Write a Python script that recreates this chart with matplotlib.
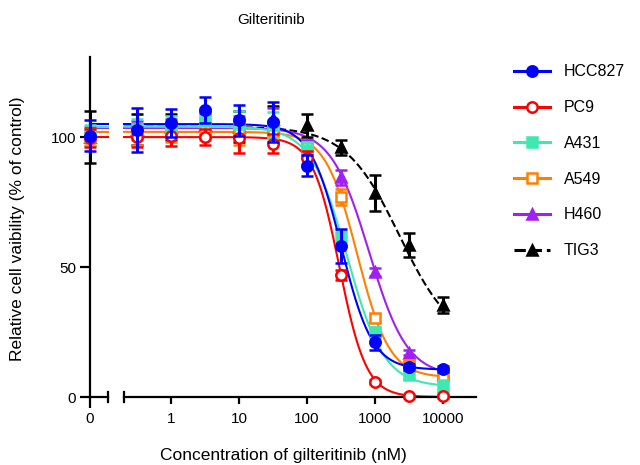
import numpy as np
import matplotlib
matplotlib.use("Agg")
import matplotlib.pyplot as plt
from matplotlib.lines import Line2D

plt.rcParams["font.family"] = ["Liberation Sans", "DejaVu Sans"]

# concentrations (nM); the 0 control sits on the left stub of the broken axis
conc = [0.316, 1, 3.16, 10, 31.6, 100, 316, 1000, 3162, 10000]

names = ["HCC827", "PC9", "A431", "A549", "H460", "TIG3"]

# first value in each list is the 0 nM control
hcc827 = [100.5, 102.7, 105.4, 110.4, 106.5, 105.8, 89.0, 58.0, 21.0, 11.5, 10.8]
pc9 = [99.5, 100.0, 100.5, 100.0, 99.6, 97.5, 92.0, 47.0, 5.8, 0.3, 0.2]
a431 = [100.5, 103.0, 104.0, 106.0, 105.0, 104.5, 95.0, 61.0, 25.0, 8.5, 4.0]
a549 = [100.0, 101.0, 102.0, 103.0, 102.0, 102.0, 96.0, 77.0, 30.5, 12.5, 8.0]
h460 = [101.0, 103.0, 104.0, 105.0, 104.0, 106.0, 97.0, 84.5, 48.0, 17.0, 9.0]
tig3 = [100.0, 103.0, 104.0, 104.5, 104.0, 107.0, 104.5, 96.0, 78.5, 58.5, 35.5]

hcc827_err = [6.0, 8.3, 5.5, 5.0, 6.0, 7.7, 4.0, 6.5, 3.0, 1.2, 1.2]
pc9_err = [3.5, 4.0, 4.0, 3.0, 5.6, 3.5, 2.5, 2.0, 0.8, 0.6, 0.5]
a431_err = [4.0, 4.0, 4.0, 5.0, 5.0, 5.0, 3.0, 3.0, 2.0, 1.5, 2.5]
a549_err = [3.0, 4.0, 4.0, 4.0, 5.0, 4.0, 2.0, 3.0, 1.5, 1.5, 1.5]
h460_err = [3.0, 3.0, 3.0, 4.0, 4.0, 5.0, 2.0, 3.0, 1.5, 1.0, 1.0]
tig3_err = [10.0, 6.0, 5.0, 5.0, 6.0, 5.0, 4.5, 3.0, 7.0, 4.5, 3.0]

# fitted 4PL parameters (top, bottom, IC50, hill)
fit_top = [105.0, 100.0, 104.0, 102.0, 103.5, 104.0]
fit_bottom = [10.5, 0.0, 4.0, 7.5, 8.0, 20.0]
fit_ic50 = [320, 300, 390, 550, 820, 2300]
fit_hill = [1.9, 2.2, 1.6, 1.84, 1.55, 1.1]

values = [hcc827, pc9, a431, a549, h460, tig3]
errors = [hcc827_err, pc9_err, a431_err, a549_err, h460_err, tig3_err]

colors = ["#0000FF", "#FF0000", "#3FE8B0", "#FF8000", "#A020F0", "#000000"]
markers = ["o", "o", "s", "s", "^", "^"]
filled = [True, False, True, False, True, True]
styles = ["-", "-", "-", "-", "-", "--"]


def logistic(x, top, bottom, ic50, hill):
    return bottom + (top - bottom) / (1 + (x / ic50) ** hill)


fig = plt.figure(figsize=(6.4, 4.65), dpi=100)
W, H = 640, 465
axL = fig.add_axes([90 / W, 1 - 397 / H, 18 / W, 340 / H])
axR = fig.add_axes([124 / W, 1 - 397 / H, 352 / W, 340 / H], sharey=axL)

axL.set_xlim(0, 1)
axL.set_ylim(0, 130.8)
axR.set_xscale("log")
axR.set_xlim(0.204, 30550)

xfit = np.logspace(np.log10(0.204), 4, 300)

# curves first, markers on top; draw in reverse so HCC827 ends up on top
order = list(range(len(names)))[::-1]
for k, i in enumerate(order):
    lw = 1.5
    axR.plot(xfit, logistic(xfit, fit_top[i], fit_bottom[i], fit_ic50[i], fit_hill[i]),
             color=colors[i], ls=styles[i], lw=lw, zorder=2, clip_on=False)
    axL.plot([0, 1], [fit_top[i], fit_top[i]], color=colors[i], ls=styles[i],
             lw=lw, zorder=2, clip_on=False)

for k, i in enumerate(order):
    mfc = colors[i] if filled[i] else "white"
    kw = dict(fmt=markers[i], color=colors[i], mfc=mfc, mec=colors[i],
              mew=1.8, ms=7.5, elinewidth=2.2, capsize=4, capthick=2.2,
              zorder=4 + k)
    c1 = axL.errorbar([0], [values[i][0]], yerr=[errors[i][0]], **kw)
    c2 = axR.errorbar(conc, values[i][1:], yerr=errors[i][1:], **kw)
    for cont in (c1, c2):
        for art in cont.get_children():
            art.set_clip_on(False)

# spines and ticks
for ax in (axL, axR):
    ax.spines["top"].set_visible(False)
    ax.spines["right"].set_visible(False)
    ax.spines["bottom"].set_linewidth(1.6)
    ax.minorticks_off()
axL.spines["left"].set_linewidth(1.6)
axR.spines["left"].set_visible(False)

axL.set_yticks([0, 50, 100])
axL.set_xticks([0])
axL.set_xticklabels(["0"])
axL.tick_params(axis="y", direction="out", length=7, width=1.6, labelsize=11, pad=3)
axL.tick_params(axis="x", direction="out", length=8, width=1.6, labelsize=11, pad=3)

axR.set_xticks([1, 10, 100, 1000, 10000])
axR.set_xticklabels(["1", "10", "100", "1000", "10000"])
axR.xaxis.set_minor_locator(matplotlib.ticker.NullLocator())
axR.tick_params(axis="x", direction="out", length=5, width=1.6, labelsize=11, pad=6)
axR.tick_params(axis="y", left=False, labelleft=False)

# break marks at the ends of the two axis segments
axL.plot([1, 1], [-0.016, 0.016], transform=axL.transAxes, color="black",
         lw=1.6, clip_on=False)
axR.plot([0, 0], [-0.016, 0.016], transform=axR.transAxes, color="black",
         lw=1.6, clip_on=False)

fig.text(271 / W, 1 - 20 / H, "Gilteritinib", ha="center", va="center", fontsize=11)
fig.text(283 / W, 1 - 455 / H, "Concentration of gilteritinib (nM)",
         ha="center", va="center", fontsize=12.5)
fig.text(18 / W, 1 - 229 / H, "Relative cell vaibility (% of control)",
         ha="center", va="center", rotation=90, fontsize=12.5)

handles = []
for i in range(len(names)):
    mfc = colors[i] if filled[i] else "white"
    handles.append(Line2D([], [], color=colors[i], ls=styles[i], lw=2.2,
                          marker=markers[i], mfc=mfc, mec=colors[i], mew=1.8, ms=7.5))
fig.legend(handles, names, loc="upper left", bbox_to_anchor=(508 / W, 1 - 58 / H),
           frameon=False, fontsize=11.5, labelspacing=1.3, handlelength=2.2,
           handletextpad=0.9, borderaxespad=0)

fig.savefig("out.png", dpi=100)
